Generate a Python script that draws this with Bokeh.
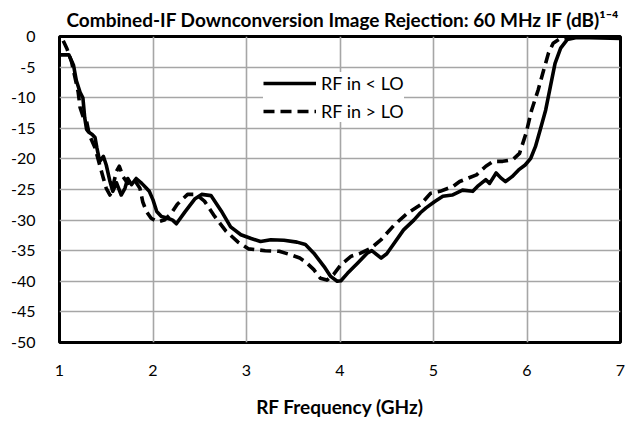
from bokeh.plotting import figure
from bokeh.models import Range1d, FixedTicker, Legend, LegendItem
from bokeh.embed import file_html
from bokeh.resources import INLINE

# ---- data ----
title_text = "Combined-IF Downconversion Image Rejection: 60 MHz IF (dB)"
title_sup = "\u00b9\u207b\u2074"   # superscript "1-4"
x_label = "RF Frequency (GHz)"
series_names = ["RF in < LO", "RF in > LO"]

x_ticks = [1, 2, 3, 4, 5, 6, 7]
x_tick_labels = ["1", "2", "3", "4", "5", "6", "7"]
y_ticks = [0, -5, -10, -15, -20, -25, -30, -35, -40, -45, -50]
y_tick_labels = ["0", "-5", "-10", "-15", "-20", "-25", "-30", "-35", "-40", "-45", "-50"]

freq_lt = [1.00, 1.10, 1.15, 1.18, 1.22, 1.25, 1.27, 1.29, 1.31, 1.35, 1.38, 1.40,
           1.43, 1.47, 1.50, 1.54, 1.57, 1.61, 1.66, 1.70, 1.73, 1.77, 1.82, 1.88,
           1.93, 1.96, 2.00, 2.04, 2.09, 2.16, 2.21, 2.25, 2.34, 2.45, 2.52, 2.62,
           2.73, 2.83, 2.94, 3.05, 3.15, 3.26, 3.40, 3.54, 3.63, 3.72, 3.83, 3.90,
           3.97, 4.01, 4.08, 4.19, 4.29, 4.34, 4.44, 4.50, 4.57, 4.68, 4.79, 4.86,
           4.92, 5.01, 5.10, 5.20, 5.31, 5.42, 5.47, 5.56, 5.60, 5.67, 5.72, 5.77,
           5.84, 5.91, 5.98, 6.04, 6.09, 6.14, 6.20, 6.25, 6.30, 6.36, 6.43, 6.52,
           6.67, 7.00]
rej_lt = [-3.0, -3.0, -4.7, -7.2, -9.1, -10.0, -13.3, -15.2, -15.6, -16.0, -16.5, -18.2,
          -20.4, -19.6, -21.0, -23.7, -25.3, -23.9, -25.9, -24.8, -23.2, -24.2, -23.2, -24.0,
          -24.8, -25.3, -26.7, -28.6, -29.4, -29.7, -30.0, -30.6, -28.7, -26.5, -25.8, -26.0,
          -28.5, -31.1, -32.4, -33.0, -33.5, -33.2, -33.3, -33.6, -34.0, -35.4, -37.6, -39.2,
          -40.0, -39.9, -38.7, -37.0, -35.4, -35.0, -36.2, -35.5, -34.0, -31.6, -30.0, -28.8,
          -28.0, -27.0, -26.1, -25.9, -25.1, -25.3, -24.5, -23.4, -24.0, -22.3, -23.1, -23.7,
          -22.9, -21.8, -21.0, -19.9, -18.0, -15.3, -12.0, -8.2, -4.4, -1.9, -0.5, -0.2,
          -0.2, -0.3]

freq_gt = [1.04, 1.08, 1.13, 1.20, 1.22, 1.25, 1.29, 1.32, 1.38, 1.43, 1.47, 1.50,
           1.54, 1.57, 1.61, 1.64, 1.68, 1.73, 1.80, 1.86, 1.89, 1.93, 1.98, 2.05,
           2.12, 2.19, 2.26, 2.37, 2.46, 2.55, 2.66, 2.78, 2.91, 3.02, 3.20, 3.35,
           3.46, 3.57, 3.63, 3.72, 3.79, 3.86, 3.93, 4.01, 4.12, 4.22, 4.33, 4.44,
           4.58, 4.72, 4.86, 4.97, 5.07, 5.21, 5.28, 5.46, 5.56, 5.64, 5.74, 5.85,
           5.92, 5.99, 6.05, 6.12, 6.18, 6.23, 6.28, 6.36, 6.50, 7.00]
rej_gt = [-0.7, -2.0, -4.2, -9.1, -11.6, -13.0, -13.9, -16.1, -18.2, -21.0, -23.2, -24.8,
          -25.9, -24.5, -22.0, -21.2, -22.9, -24.0, -23.4, -24.8, -27.0, -28.6, -29.7, -30.3,
          -30.0, -29.0, -27.4, -25.8, -25.8, -26.9, -29.4, -31.8, -33.6, -34.7, -35.0, -35.1,
          -35.6, -36.2, -36.8, -38.1, -39.5, -39.8, -38.9, -37.3, -35.9, -35.4, -34.6, -33.2,
          -30.8, -28.9, -27.5, -25.6, -25.3, -24.5, -23.7, -22.6, -21.2, -20.4, -20.4, -20.1,
          -19.1, -15.8, -12.0, -8.7, -5.4, -2.7, -1.1, -0.3, -0.1, -0.1]

FONT = "Lato"

p = figure(width=631, height=421, output_backend="svg", toolbar_location=None,
           x_range=Range1d(1, 7), y_range=Range1d(-50, 0),
           min_border_left=59, min_border_right=11, min_border_top=35, min_border_bottom=79,
           background_fill_color="white", border_fill_color="white")

p.title.text = title_text + title_sup
p.title.text_font = FONT
p.title.text_font_size = "19px"
p.title.text_font_style = "bold"
p.title.align = "left"
p.title.offset = 7
p.title.standoff = 11
p.title.text_color = "black"

p.outline_line_color = "black"
p.outline_line_width = 3

for ax in (p.xaxis[0], p.yaxis[0]):
    ax.axis_line_color = None
    ax.major_tick_line_color = None
    ax.minor_tick_line_color = None
    ax.major_label_text_font = FONT
    ax.major_label_text_font_size = "16px"
    ax.major_label_text_color = "black"

p.xaxis.ticker = FixedTicker(ticks=x_ticks)
p.xaxis.major_label_overrides = dict(zip(x_ticks, x_tick_labels))
p.xaxis.major_label_standoff = 16
p.xaxis.axis_label = x_label
p.xaxis.axis_label_text_font = FONT
p.xaxis.axis_label_text_font_size = "19px"
p.xaxis.axis_label_text_font_style = "bold"
p.xaxis.axis_label_text_color = "black"
p.xaxis.axis_label_standoff = 16

p.yaxis.ticker = FixedTicker(ticks=y_ticks)
p.yaxis.major_label_overrides = dict(zip(y_ticks, y_tick_labels))
p.yaxis.major_label_standoff = 18

p.xgrid.ticker = FixedTicker(ticks=x_ticks)
p.ygrid.ticker = FixedTicker(ticks=y_ticks)
for g in (p.xgrid[0], p.ygrid[0]):
    g.grid_line_color = "#a6a6a6"
    g.grid_line_width = 1.6

r1 = p.line(freq_lt, rej_lt, line_color="black", line_width=3.6, line_join="round")
r2 = p.line(freq_gt, rej_gt, line_color="black", line_width=3.6, line_dash="11 6",
            line_join="round")

legend = Legend(items=[LegendItem(label=series_names[0], renderers=[r1]),
                       LegendItem(label=series_names[1], renderers=[r2])],
                location=(204, 220), orientation="vertical",
                label_text_font=FONT, label_text_font_size="18px", label_text_color="black",
                glyph_width=53, glyph_height=18, label_height=18, label_standoff=5,
                spacing=6, padding=9, margin=0,
                border_line_color=None, background_fill_color="white",
                background_fill_alpha=1.0)
p.add_layout(legend)

open("out.html", "w").write(file_html(p, INLINE))
